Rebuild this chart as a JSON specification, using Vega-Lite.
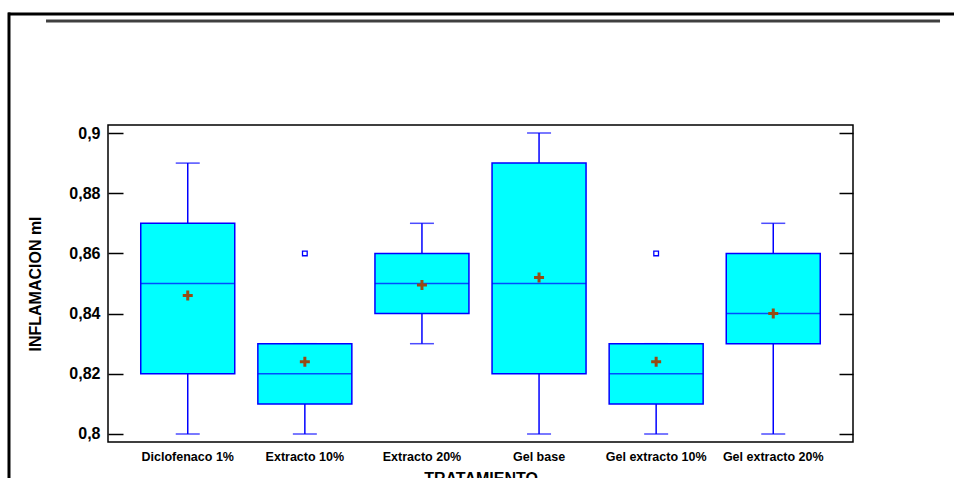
{
  "$schema": "https://vega.github.io/schema/vega-lite/v6.json",
  "width": 745,
  "height": 317,
  "autosize": {"type": "none"},
  "padding": {"left": 108, "top": 125, "right": 101, "bottom": 36},
  "background": "white",
  "config": {
    "font": "Liberation Sans",
    "view": {"stroke": "black", "strokeWidth": 1.5}
  },
  "datasets": {
    "boxes": [
      {"grupo": "Diclofenaco 1%", "min": 0.80, "q1": 0.82, "mediana": 0.85, "q3": 0.87, "max": 0.89, "media": 0.846},
      {"grupo": "Extracto 10%", "min": 0.80, "q1": 0.81, "mediana": 0.82, "q3": 0.83, "max": 0.83, "media": 0.824},
      {"grupo": "Extracto 20%", "min": 0.83, "q1": 0.84, "mediana": 0.85, "q3": 0.86, "max": 0.87, "media": 0.8495},
      {"grupo": "Gel base", "min": 0.80, "q1": 0.82, "mediana": 0.85, "q3": 0.89, "max": 0.90, "media": 0.852},
      {"grupo": "Gel extracto 10%", "min": 0.80, "q1": 0.81, "mediana": 0.82, "q3": 0.83, "max": 0.83, "media": 0.824},
      {"grupo": "Gel extracto 20%", "min": 0.80, "q1": 0.83, "mediana": 0.84, "q3": 0.86, "max": 0.87, "media": 0.840}
    ],
    "atipicos": [
      {"grupo": "Extracto 10%", "valor": 0.86},
      {"grupo": "Gel extracto 10%", "valor": 0.86}
    ]
  },
  "layer": [
    {
      "description": "page frame lines",
      "data": {"values": [{}]},
      "layer": [
        {
          "mark": {"type": "rule", "color": "black", "strokeWidth": 3, "clip": false},
          "encoding": {
            "x": {"datum": -0.134, "type": "quantitative", "scale": {"domain": [0, 1], "nice": false, "zero": false}, "axis": null},
            "x2": {"datum": 1.15},
            "y": {"datum": 0.939535, "type": "quantitative", "scale": {"domain": [0.797342, 0.902658], "nice": false, "zero": false}, "axis": null}
          }
        },
        {
          "mark": {"type": "rule", "color": "black", "strokeWidth": 3, "clip": false},
          "encoding": {
            "x": {"datum": -0.1329, "type": "quantitative", "scale": {"domain": [0, 1], "nice": false, "zero": false}, "axis": null},
            "y": {"datum": 0.94, "type": "quantitative", "scale": {"domain": [0.797342, 0.902658], "nice": false, "zero": false}, "axis": null},
            "y2": {"datum": 0.78}
          }
        },
        {
          "mark": {"type": "rule", "color": "#404040", "strokeWidth": 3, "clip": false},
          "encoding": {
            "x": {"datum": -0.0832, "type": "quantitative", "scale": {"domain": [0, 1], "nice": false, "zero": false}, "axis": null},
            "x2": {"datum": 1.1168},
            "y": {"datum": 0.937209, "type": "quantitative", "scale": {"domain": [0.797342, 0.902658], "nice": false, "zero": false}, "axis": null}
          }
        }
      ]
    },
    {
      "data": {"name": "boxes"},
      "encoding": {
        "x": {
          "field": "grupo",
          "type": "nominal",
          "sort": null,
          "scale": {"paddingInner": 0, "paddingOuter": 0.181},
          "axis": {
            "title": "TRATAMIENTO",
            "labelAngle": 0,
            "ticks": false,
            "domain": false,
            "labelFontSize": 12.5,
            "labelFontWeight": "bold",
            "labelColor": "black",
            "labelPadding": 8,
            "titleFontSize": 16,
            "titleFontWeight": "bold",
            "titleColor": "black",
            "titlePadding": 8
          }
        }
      },
      "layer": [
        {
          "mark": {"type": "rule", "color": "#0000FF", "strokeWidth": 1.5},
          "encoding": {
            "y": {
              "field": "min",
              "type": "quantitative",
              "scale": {"domain": [0.797342, 0.902658], "nice": false, "zero": false},
              "axis": {
                "orient": "left",
                "values": [0.8, 0.82, 0.84, 0.86, 0.88, 0.9],
                "labelExpr": "replace(format(datum.value, '.2~f'), '.', ',')",
                "title": "INFLAMACION ml",
                "grid": false,
                "domain": false,
                "tickSize": -15,
                "tickWidth": 1.5,
                "tickColor": "black",
                "labelPadding": 23,
                "labelFontSize": 16,
                "labelFontWeight": "bold",
                "labelColor": "black",
                "titleFontSize": 16,
                "titleFontWeight": "bold",
                "titleColor": "black",
                "titlePadding": 25
              }
            },
            "y2": {"field": "max"}
          }
        },
        {
          "mark": {"type": "tick", "color": "#0000FF", "size": 24, "thickness": 1.5},
          "encoding": {
            "y": {
              "field": "max",
              "type": "quantitative",
              "axis": {
                "orient": "right",
                "values": [0.8, 0.82, 0.84, 0.86, 0.88, 0.9],
                "labels": false,
                "title": null,
                "grid": false,
                "domain": false,
                "tickSize": -14,
                "tickWidth": 1.5,
                "tickColor": "black"
              }
            }
          }
        },
        {
          "mark": {"type": "tick", "color": "#0000FF", "size": 24, "thickness": 1.5},
          "encoding": {"y": {"field": "min", "type": "quantitative", "axis": null}}
        },
        {
          "mark": {"type": "bar", "width": 94, "fill": "#00FFFF", "stroke": "#0000FF", "strokeWidth": 1.5},
          "encoding": {
            "y": {"field": "q1", "type": "quantitative", "axis": null},
            "y2": {"field": "q3"}
          }
        },
        {
          "mark": {"type": "tick", "color": "#0000FF", "size": 94, "thickness": 1.5},
          "encoding": {"y": {"field": "mediana", "type": "quantitative", "axis": null}}
        },
        {
          "mark": {
            "type": "point",
            "shape": "M-1,-.3L-1,.3L-.3,.3L-.3,1L.3,1L.3,.3L1,.3L1,-.3L.3,-.3L.3,-1L-.3,-1L-.3,-.3Z",
            "size": 100,
            "filled": true,
            "color": "#964B14",
            "opacity": 1
          },
          "encoding": {"y": {"field": "media", "type": "quantitative", "axis": null}}
        },
        {
          "data": {"name": "atipicos"},
          "mark": {"type": "point", "shape": "square", "size": 22, "filled": false, "color": "#0000FF", "strokeWidth": 1.3, "opacity": 1},
          "encoding": {"y": {"field": "valor", "type": "quantitative", "axis": null}}
        }
      ],
      "resolve": {"axis": {"y": "independent"}}
    }
  ],
  "resolve": {"scale": {"x": "independent"}, "axis": {"x": "independent", "y": "independent"}}
}
